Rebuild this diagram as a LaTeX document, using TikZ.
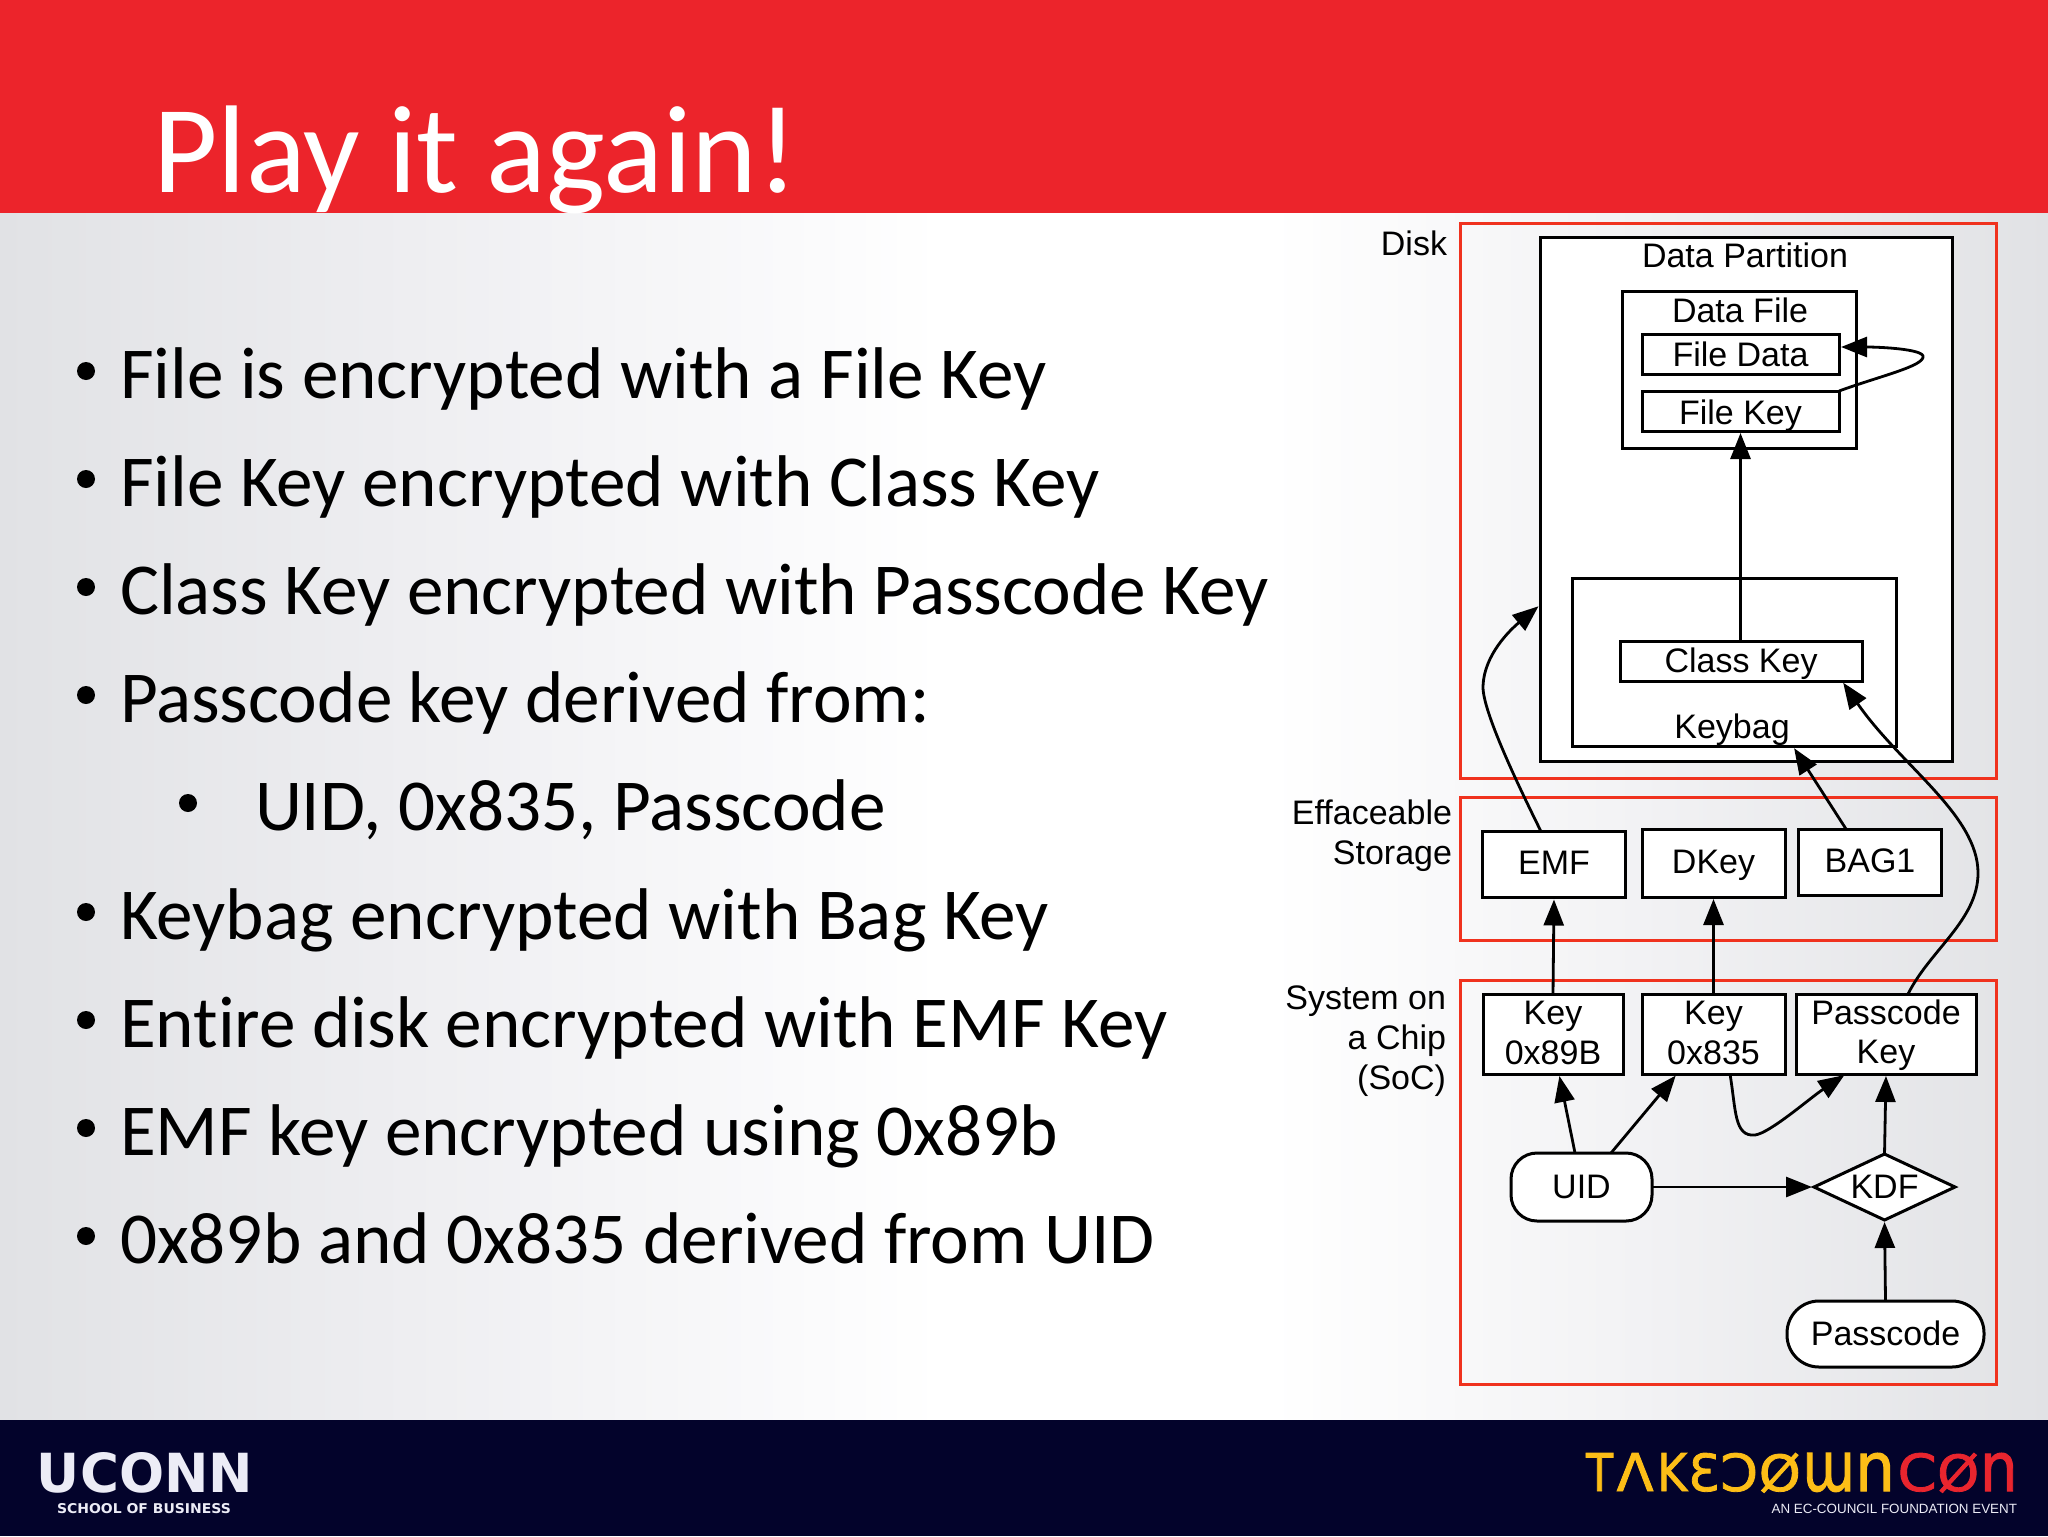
\documentclass[tikz,border=0pt]{standalone}
\usepackage{fontspec}
\usepackage{graphicx}
\usetikzlibrary{shapes.geometric,arrows.meta}
\setmainfont{Carlito}[Ligatures=NoCommon]
\newfontfamily\diagfont{Liberation Sans}
\newfontfamily\logofont{DejaVu Sans}
\newfontfamily\tdcfont[FakeBold=1.6]{DejaVu Sans}
\definecolor{slidered}{HTML}{EC242B}
\definecolor{boxred}{HTML}{F0321E}
\definecolor{footnavy}{HTML}{03032B}
\definecolor{logoyellow}{HTML}{FDBE17}
\definecolor{logored}{HTML}{E9252E}
\definecolor{logowhite}{HTML}{ECECF6}
\definecolor{bgA}{HTML}{E1E2E5}
\definecolor{bgB}{HTML}{EEEEF1}
\definecolor{bgC}{HTML}{FBFBFC}
\definecolor{bgD}{HTML}{F2F2F4}
\pgfdeclarehorizontalshading{slidebg}{100bp}{
 color(0bp)=(bgA);
 color(25bp)=(bgA);
 color(35bp)=(bgB);
 color(45bp)=(bgC);
 color(48bp)=(white);
 color(56bp)=(white);
 color(65bp)=(bgD);
 color(75bp)=(bgA);
 color(100bp)=(bgA)}
\newcommand{\lgl}[2]{\resizebox{#1pt}{19pt}{#2}}
\newcommand{\shifted}[2]{\raisebox{#1}[\height][\depth]{#2}}
\tikzset{
 x=0.5pt,y=-0.5pt,
 redbox/.style={draw=boxred,line width=1.5pt,fill=none},
 box/.style={draw=black,fill=white,line width=1.5pt,inner sep=0pt,outer sep=0pt,font=\diagfont\fontsize{17}{19.6}\selectfont,align=center},
 frame/.style={box},
 lab/.style={inner sep=0pt,outer sep=0pt,font=\diagfont\fontsize{17}{19.6}\selectfont,align=center},
 sidelab/.style={inner sep=0pt,outer sep=0pt,anchor=east,font=\diagfont\fontsize{17}{20}\selectfont,align=right},
 arr/.style={draw=black,line width=1.4pt,-{Triangle[length=13pt,width=10pt]},shorten >=1pt},
 bul/.style={inner sep=0pt,outer sep=0pt,anchor=base west,font=\fontsize{36.6}{40}\selectfont,text=black},
 dot/.style={circle,fill=black,inner sep=0pt,minimum size=9pt},
}
\begin{document}
\begin{tikzpicture}
\useasboundingbox (0,0) rectangle (2048,1536);
% background
\fill[white] (0,0) rectangle (2048,1536);
\shade[shading=slidebg] (0,213) rectangle (2048,1420);
\fill[slidered] (0,0) rectangle (2048,213);
\fill[footnavy] (0,1420) rectangle (2048,1536);
% title
\node[inner sep=0pt,outer sep=0pt,anchor=base west,text=white,font=\fontsize{62.4}{70}\selectfont] (title) at (153,192.5) {Play it again!};
% bullets
\node[bul] (b1) at (120,398) {File is encrypted with a File Key};
\node[bul] (b2) at (120,506) {File Key encrypted with Class Key};
\node[bul] (b3) at (120,614) {Class Key encrypted with Passcode Key};
\node[bul] (b4) at (120,722) {Passcode key derived from:};
\node[bul] (b5) at (255,830) {UID, 0x835, Passcode};
\node[bul] (b6) at (120,939) {Keybag encrypted with Bag Key};
\node[bul] (b7) at (120,1047) {Entire disk encrypted with EMF Key};
\node[bul] (b8) at (120,1155) {EMF key encrypted using 0x89b};
\node[bul] (b9) at (120,1263) {0x89b and 0x835 derived from UID};
\node[dot] (d1) at (86,371) {};
\node[dot] (d2) at (86,479) {};
\node[dot] (d3) at (86,587) {};
\node[dot] (d4) at (86,695) {};
\node[dot] (d5) at (188,803) {};
\node[dot] (d6) at (86,912) {};
\node[dot] (d7) at (86,1020) {};
\node[dot] (d8) at (86,1128) {};
\node[dot] (d9) at (86,1236) {};
% red regions
\draw[redbox] (1460,223) rectangle (1996,778);
\draw[redbox] (1460,797) rectangle (1996,940);
\draw[redbox] (1460,980) rectangle (1996,1384);
% side labels
\node[sidelab] (ldisk) at (1447,243) {Disk};
\node[sidelab] (leff) at (1452,836) {Effaceable\\Storage};
\node[sidelab] (lsoc) at (1446,1041) {System on\\a Chip\\(SoC)};
% disk
\node[frame,minimum width=206pt,minimum height=262pt] (dp) at (1746,499) {};
\node[lab] (dpt) at (1745,255) {Data Partition};
\node[frame,minimum width=117pt,minimum height=78.5pt] (df) at (1739,369.5) {};
\node[lab] (dft) at (1740,310.5) {Data File};
\node[box,minimum width=98.5pt,minimum height=20pt] (fd) at (1740.5,354) {File Data};
\node[box,minimum width=98.5pt,minimum height=20pt] (fk) at (1740.5,411) {\shifted{-2.5pt}{File Key}};
\node[frame,minimum width=162pt,minimum height=84pt] (kb) at (1734,662.5) {};
\node[lab] (kbt) at (1732,730) {Keybag};
\node[box,minimum width=121pt,minimum height=20pt] (ck) at (1741,661) {\shifted{-1.3pt}{Class Key}};
% effaceable
\node[box,minimum width=71.5pt,minimum height=33pt] (emf) at (1554,864.5) {\shifted{0.7pt}{EMF}};
\node[box,minimum width=71.5pt,minimum height=34pt] (dkey) at (1713.5,863) {\shifted{-1.3pt}{DKey}};
\node[box,minimum width=71.5pt,minimum height=33pt] (bag) at (1870,862) {\shifted{0.7pt}{BAG1}};
% soc
\node[box,minimum width=70pt,minimum height=40pt] (k89) at (1553,1034) {\shifted{0.5pt}{Key}\\\shifted{0.5pt}{0x89B}};
\node[box,minimum width=71.5pt,minimum height=40pt] (k83) at (1713.5,1034) {\shifted{0.5pt}{Key}\\\shifted{0.5pt}{0x835}};
\node[box,minimum width=90pt,minimum height=40pt] (pk) at (1886,1034) {\shifted{-0.5pt}{Passcode}\\\shifted{-0.5pt}{Key}};
\node[box,rounded corners=13pt,minimum width=70.5pt,minimum height=34pt] (uid) at (1581.5,1187) {UID};
\node[box,diamond,aspect=2.15,minimum width=70.5pt,minimum height=33pt] (kdf) at (1884.5,1187) {KDF};
\node[box,rounded corners=16pt,minimum width=98.5pt,minimum height=33pt] (pc) at (1885.5,1334) {\shifted{0.5pt}{Passcode}};
% connectors
\draw[arr] (ck.north -| fk.south) -- (fk.south);
\draw[arr] (fk.north east) .. controls (1880,376) and (1925,366) .. (1923,356) .. controls (1921,349) and (1880,347) .. (fd.east |- 0,347);
\draw[arr] (k89.north) -- (emf.south);
\draw[arr] (k83.north) -- (dkey.south);
\draw[arr] (uid.north -| 1575,0) -- (k89.south -| 1559,0);
\draw[arr] (uid.north -| 1611,0) -- (k83.south -| 1677,0);
\draw[arr] (k83.south -| 1730,0) .. controls (1736,1110) and (1734,1137) .. (1755,1135) .. controls (1770,1133) and (1810,1098) .. (pk.south -| 1846,0);
\draw[arr] (kdf.north) -- (pk.south);
\draw[arr] (uid.east) -- (kdf.west);
\draw[arr] (pc.north) -- (kdf.south);
\draw[arr] (bag.north -| 1846,0) -- (kb.south -| 1793,0);
\draw[arr] (emf.north -| 1541,0) .. controls (1518,785) and (1482,710) .. (1483,686) .. controls (1484,655) and (1510,630) .. (dp.west |- 0,605);
\draw[arr] (pk.north -| 1908,0) .. controls (1930,950) and (1978,920) .. (1978,873) .. controls (1978,815) and (1900,765) .. (ck.south -| 1842,0);
% logos
\node[inner sep=0pt,outer sep=0pt,text=logowhite,anchor=base west,font=\logofont\bfseries] (uconn) at (37,1492) {\resizebox{108pt}{20pt}{UCONN}};
\node[inner sep=0pt,outer sep=0pt,text=logowhite,anchor=base west,font=\logofont\bfseries] (sob) at (57,1513) {\resizebox{87pt}{5pt}{SCHOOL OF BUSINESS}};
\node[inner sep=0pt,outer sep=0pt,anchor=base west,font=\tdcfont\fontsize{26}{30}\selectfont] (tdc) at (1586,1491) {\textcolor{logoyellow}{\lgl{13.5}{T}\hspace{1.8pt}\lgl{18.5}{Λ}\hspace{1.8pt}\lgl{15}{K}\hspace{0.5pt}\lgl{15.5}{Ɛ}\hspace{0.5pt}\lgl{19}{Ɔ}\hspace{0.3pt}\lgl{21}{Ø}\hspace{0.8pt}\lgl{26}{ɯ}\hspace{0.3pt}\lgl{20}{n}}\hspace{1.3pt}\textcolor{logored}{\lgl{19.5}{C}\hspace{0.3pt}\lgl{21}{Ø}\hspace{0.3pt}\lgl{19}{n}}};
\node[inner sep=0pt,outer sep=0pt,anchor=east,text=logowhite,font=\diagfont\fontsize{6.7}{9}\selectfont] (ec) at (2017,1509) {AN EC-COUNCIL FOUNDATION EVENT};
\end{tikzpicture}
\end{document}
